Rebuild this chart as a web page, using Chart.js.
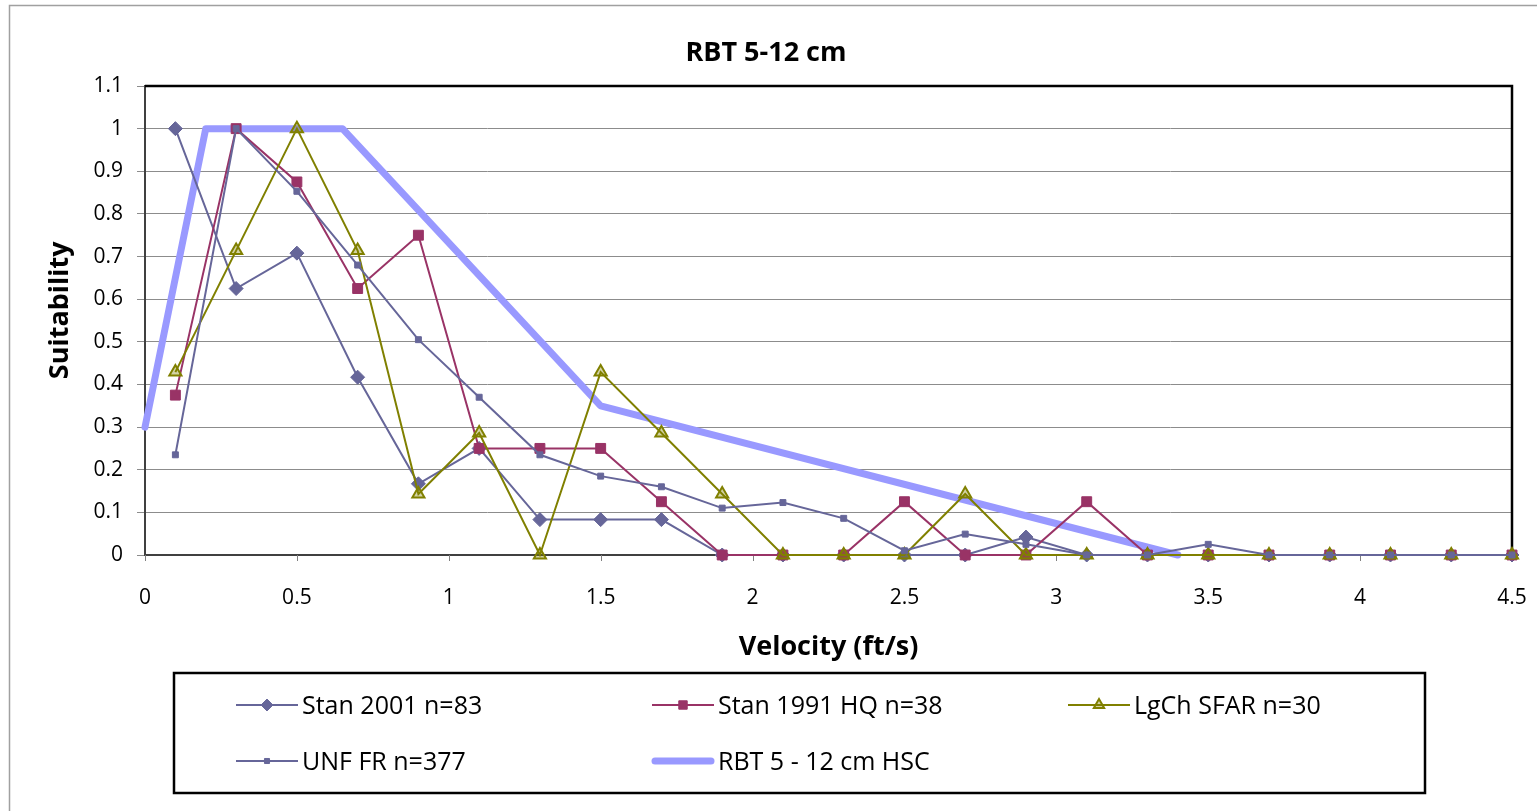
<!DOCTYPE html>
<html>
<head>
<meta charset="utf-8">
<script src="https://cdn.jsdelivr.net/npm/chart.js@4.4.1/dist/chart.umd.min.js"></script>
<style>
html,body{margin:0;padding:0;background:#fff;}
#wrap{position:relative;width:1537px;height:811px;}
canvas{display:block;}
</style>
</head>
<body>
<div id="wrap"><canvas id="c" width="1537" height="811"></canvas></div>
<script>
// ---- data ----
const velocity = [0.1,0.3,0.5,0.7,0.9,1.1,1.3,1.5,1.7,1.9,2.1,2.3,2.5,2.7,2.9,3.1,3.3,3.5,3.7,3.9,4.1,4.3,4.5];
const stan2001 = [1,0.625,0.708,0.417,0.167,0.25,0.083,0.083,0.083,0,0,0,0,0,0.042,0,0,0,0,0,0,0,0];
const stan1991 = [0.375,1,0.875,0.625,0.75,0.25,0.25,0.25,0.125,0,0,0,0.125,0,0,0.125,0,0,0,0,0,0,0];
const lgchSfar = [0.429,0.714,1,0.714,0.143,0.286,0,0.429,0.286,0.143,0,0,0,0.143,0,0,0,0,0,0,0,0,0];
const unfFr    = [0.235,1,0.853,0.68,0.505,0.37,0.235,0.185,0.16,0.11,0.123,0.086,0.01,0.049,0.025,0,0,0.025,0,0,0,0,0];
const hscX = [0,0.2,0.65,1.5,3.4];
const hscY = [0.3,1,1,0.35,0];
const seriesLabels = ['Stan 2001 n=83','Stan 1991 HQ n=38','LgCh SFAR n=30','UNF FR n=377','RBT 5 - 12 cm HSC'];
const chartTitle = 'RBT 5-12 cm';
const xTitle = 'Velocity (ft/s)';
const yTitle = 'Suitability';

const pts = (xs, ys) => xs.map((x, i) => ({x: x, y: ys[i]}));
const FONT = '"Open Sans", Lato, sans-serif';
const fmt = v => String(Number(v.toFixed(2)));

const datasets = [
  {label: seriesLabels[0], data: pts(velocity, stan2001), borderColor:'#666699', backgroundColor:'#666699',
   borderWidth:2, pointStyle:'rectRot', pointRadius:7, pointBorderWidth:1, order:4},
  {label: seriesLabels[1], data: pts(velocity, stan1991), borderColor:'#993366', backgroundColor:'#993366',
   borderWidth:2, pointStyle:'rect', pointRadius:7, pointBorderWidth:1, order:3},
  {label: seriesLabels[2], data: pts(velocity, lgchSfar), borderColor:'#808000', backgroundColor:'rgba(128,128,0,0.35)',
   borderWidth:2, pointStyle:'triangle', pointRadius:7, pointBorderWidth:2, order:2},
  {label: seriesLabels[3], data: pts(velocity, unfFr), borderColor:'#666699', backgroundColor:'#666699',
   borderWidth:2, pointStyle:'rect', pointRadius:4.2, pointBorderWidth:1, order:1},
  {label: seriesLabels[4], data: pts(hscX, hscY), borderColor:'#9999FF', backgroundColor:'#9999FF',
   borderWidth:7, pointRadius:0, borderCapStyle:'round', borderJoinStyle:'round', order:10}
];
datasets.forEach(d => { d.showLine = true; d.fill = false; d.tension = 0; d.clip = false; });

const framePlugin = {
  id: 'frame',
  beforeDraw(chart) {
    const ctx = chart.ctx;
    ctx.save();
    ctx.fillStyle = '#fff';
    ctx.fillRect(0, 0, chart.width, chart.height);
    ctx.strokeStyle = '#a0a0a0';
    ctx.lineWidth = 1.5;
    ctx.strokeRect(9.5, 5.5, 1560, 840);
    ctx.restore();
  },
  beforeDatasetsDraw(chart) {
    const {ctx, chartArea: a} = chart;
    ctx.save();
    // short x tick marks (labels are pushed down by a transparent long tick)
    const xs = chart.scales.x;
    ctx.strokeStyle = '#808080';
    ctx.lineWidth = 1;
    ctx.beginPath();
    xs.ticks.forEach(t => {
      const px = Math.round(xs.getPixelForValue(t.value)) + 0.5;
      ctx.moveTo(px, a.bottom);
      ctx.lineTo(px, a.bottom + 6);
    });
    ctx.stroke();
    ctx.strokeStyle = '#000';
    ctx.lineWidth = 2.5;
    ctx.beginPath();
    ctx.moveTo(a.left, a.top);
    ctx.lineTo(a.right, a.top);
    ctx.lineTo(a.right, a.bottom);
    ctx.stroke();
    ctx.restore();
  },
  afterDraw(chart) {
    const ctx = chart.ctx;
    ctx.save();
    ctx.strokeStyle = '#000';
    ctx.lineWidth = 2.5;
    ctx.strokeRect(174, 673, 1251, 120);
    const cols = [236, 652, 1068];
    const rows = [705, 761];
    const ds = chart.data.datasets;
    ds.forEach((d, i) => {
      const x0 = cols[i % 3], y = rows[Math.floor(i / 3)];
      const x1 = x0 + 62, xm = (x0 + x1) / 2;
      const thick = i === 4;
      ctx.strokeStyle = d.borderColor;
      ctx.lineWidth = thick ? 7 : 2;
      ctx.lineCap = thick ? 'round' : 'butt';
      ctx.beginPath();
      ctx.moveTo(x0 + (thick ? 3 : 0), y);
      ctx.lineTo(x1 - (thick ? 3 : 0), y);
      ctx.stroke();
      if (d.pointRadius > 0) {
        ctx.fillStyle = d.backgroundColor;
        ctx.strokeStyle = d.borderColor;
        ctx.lineWidth = d.pointBorderWidth;
        Chart.helpers.drawPoint(ctx, {pointStyle: d.pointStyle, radius: d.pointRadius * 0.85, rotation: 0, borderWidth: d.pointBorderWidth}, xm, y);
      }
      ctx.fillStyle = '#000';
      ctx.font = '25px ' + FONT;
      ctx.textBaseline = 'middle';
      ctx.textAlign = 'left';
      ctx.fillText(d.label, x1 + 4, y + 2);
    });
    ctx.restore();
  }
};

new Chart(document.getElementById('c'), {
  type: 'scatter',
  data: {datasets},
  plugins: [framePlugin],
  options: {
    responsive: false,
    animation: false,
    devicePixelRatio: 1,
    layout: {padding: {left: 20, right: 25, top: 0, bottom: 146}},
    plugins: {
      legend: {display: false},
      tooltip: {enabled: false},
      title: {display: true, text: chartTitle, color: '#000',
        font: {family: FONT, size: 27, weight: 'bold'}, padding: {top: 37, bottom: 16.6}}
    },
    scales: {
      x: {
        type: 'linear', min: 0, max: 4.5,
        ticks: {stepSize: 0.5, color: '#000', font: {family: FONT, size: 21}, padding: 0, maxRotation: 0, callback: fmt},
        grid: {drawOnChartArea: false, drawTicks: true, tickLength: 30, tickColor: 'rgba(0,0,0,0)'},
        border: {color: '#404040', width: 2},
        title: {display: true, text: xTitle, color: '#000', font: {family: FONT, size: 27, weight: 'bold'}, padding: {top: 0, bottom: 1}},
        afterFit(s) { s.height = 110; }
      },
      y: {
        type: 'linear', min: 0, max: 1.1,
        ticks: {stepSize: 0.1, color: '#000', font: {family: FONT, size: 21}, padding: 14, callback: fmt},
        grid: {color: '#8c8c8c', lineWidth: 1, tickLength: 8, drawTicks: true},
        border: {color: '#404040', width: 2},
        title: {display: true, text: '\u2002 ' + yTitle, color: '#000', font: {family: FONT, size: 27, weight: 'bold'}, padding: {top: 24, bottom: 0}},
        afterFit(s) { s.width = 125; }
      }
    }
  }
});
</script>
</body>
</html>
